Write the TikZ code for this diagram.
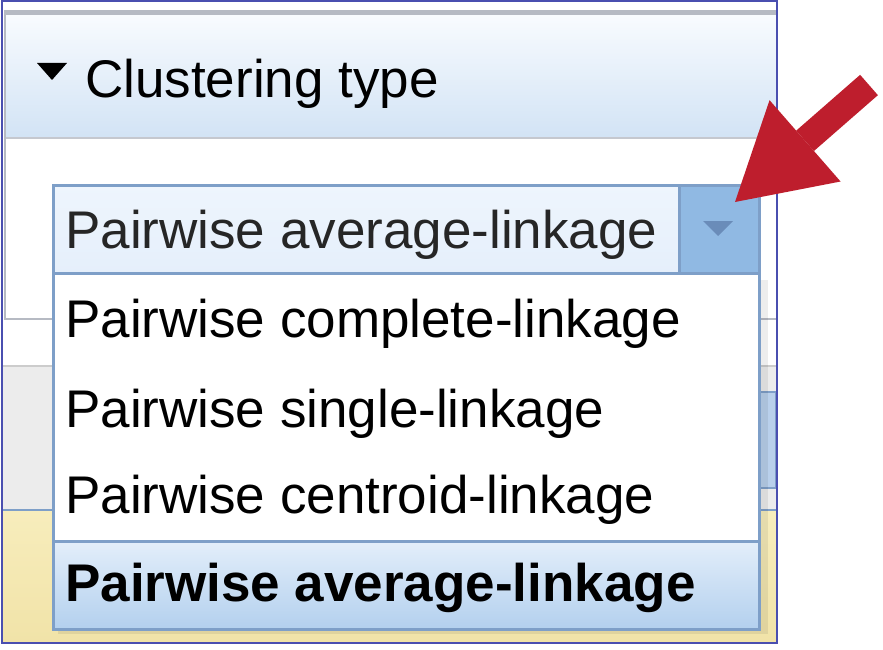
\documentclass[tikz,border=0pt]{standalone}
\usepackage{fontspec}
\setmainfont{Liberation Sans}
\usetikzlibrary{positioning, arrows.meta}
\definecolor{framecol}{HTML}{4A4FB0}
\definecolor{panelgray}{HTML}{B6BAC3}
\definecolor{headtop}{HTML}{F8FBFE}
\definecolor{headbot}{HTML}{D2E3F5}
\definecolor{boxline}{HTML}{7E9FC8}
\definecolor{fieldtop}{HTML}{EEF5FD}
\definecolor{fieldbot}{HTML}{E5EFFB}
\definecolor{buttonfill}{HTML}{90B9E3}
\definecolor{buttonmark}{HTML}{6A8CB9}
\definecolor{seltop}{HTML}{E3EEFA}
\definecolor{selbot}{HTML}{B3D0EE}
\definecolor{barfill}{HTML}{ECECEC}
\definecolor{barbutton}{HTML}{B9D0EB}
\definecolor{yellowtop}{HTML}{F7EDBC}
\definecolor{yellowbot}{HTML}{F1E3A8}
\definecolor{arrowred}{HTML}{BE1E2D}
\tikzset{bigtext/.style={font=\fontsize{53}{60}\selectfont, inner sep=0pt, anchor=base west},
         uibox/.style={draw=boxline, line width=2.5pt, inner sep=0pt, anchor=north west},
         combofield/.style={uibox, top color=fieldtop, bottom color=fieldbot, minimum width=626pt, minimum height=88pt},
         combobutton/.style={uibox, fill=buttonfill, minimum width=80pt, minimum height=88pt},
         dropdown/.style={uibox, fill=white, minimum width=706pt, minimum height=356pt},
         chosen/.style={uibox, top color=seltop, bottom color=selbot, minimum width=706pt, minimum height=88pt},
         header/.style={inner sep=0pt, anchor=north west, top color=headtop, bottom color=headbot, minimum width=770pt, minimum height=123pt},
         pointer/.style={draw=arrowred, line width=27pt, -{Triangle[length=93pt, width=108pt, line width=0pt]}},
        }

\begin{document}
\begin{tikzpicture}[x=1pt, y=-1pt]
        \useasboundingbox (0,0) rectangle (883,650);
        \fill[white] (0,0) rectangle (883,650);
        \fill[top color=yellowtop, bottom color=yellowbot] (3,511) rectangle (776,642);
        \fill[barfill] (3,367) rectangle (776,510);
        \draw[black!20, line width=2pt] (3,366) -- (776,366);
        \draw[boxline, line width=2pt] (3,510) -- (776,510);
        \draw[boxline, fill=barbutton, line width=2pt] (600,392) rectangle (776,488);

        \draw[panelgray, line width=2pt] (776,319) -| (5,12);
        \draw[panelgray, line width=4.5pt] (4,12.5) -- (776,12.5);
        \node[header] (head) at (6,15) {};
        \draw[panelgray!80, line width=2pt] (head.south west) -- (head.south east);
        \fill (37,63) -- (67,63) -- (52,80) -- cycle;
        \node[bigtext] (title) at (85,98) {Clustering type};

        \fill[black, opacity=0.07] (759,280) rectangle (768,634);
        \fill[black, opacity=0.07] (58,629) rectangle (759,634);
        \node[dropdown] (list) at (52,272) {};
        \node[chosen] (choice) at (52,540) {};
        \node[combofield] (combo) at (52,184) {};
        \node[combobutton] (button) at (678,184) {};
        \fill[buttonmark] (703,221) -- (733,221) -- (718,236) -- cycle;

        \node[bigtext, text=black!85] (current) at (65,248) {Pairwise average-linkage};
        \node[bigtext] (complete) at (65,337) {Pairwise complete-linkage};
        \node[bigtext] (single) at (65,427) {Pairwise single-linkage};
        \node[bigtext] (centroid) at (65,513) {Pairwise centroid-linkage};
        \node[bigtext, font=\fontsize{53}{60}\selectfont\bfseries] (average) at (65,601) {Pairwise average-linkage};

        \draw[framecol, line width=2pt] (2,1) rectangle (777,643);

        \coordinate (arrowtail) at (869,85);
        \coordinate (arrowtip) at (735,202);
        \draw[pointer] (arrowtail) -- (arrowtip);
    \end{tikzpicture}
\end{document}
